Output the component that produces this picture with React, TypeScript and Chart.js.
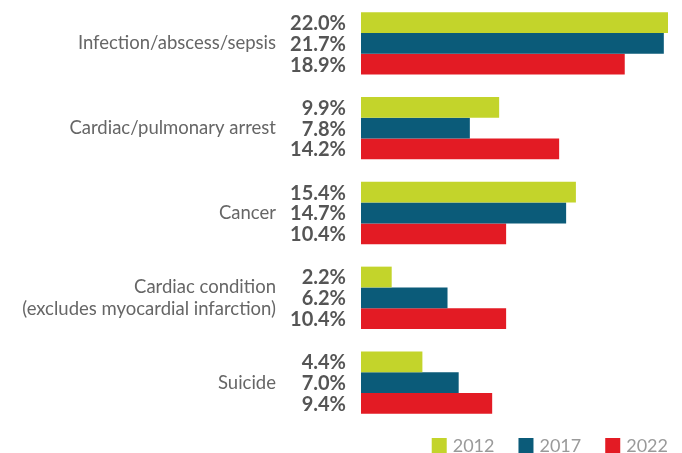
import React, { useEffect, useRef } from "react";
import { Chart, registerables } from "chart.js";

Chart.register(...registerables);

const categories: (string | string[])[] = [
  "Infection/abscess/sepsis",
  "Cardiac/pulmonary arrest",
  "Cancer",
  ["Cardiac condition", "(excludes myocardial infarction)"],
  "Suicide",
];
const years = ["2012", "2017", "2022"];
const values2012 = [22.0, 9.9, 15.4, 2.2, 4.4];
const values2017 = [21.7, 7.8, 14.7, 6.2, 7.0];
const values2022 = [18.9, 14.2, 10.4, 10.4, 9.4];
const colors = ["#C3D42B", "#0B5B79", "#E31B24"];

const FONT = "Lato, 'Open Sans', sans-serif";

const valueLabels = {
  id: "valueLabels",
  afterDatasetsDraw(chart: any) {
    const ctx = chart.ctx;
    ctx.save();
    ctx.font = `bold 20px ${FONT}`;
    ctx.fillStyle = "#555555";
    ctx.textAlign = "right";
    ctx.textBaseline = "middle";
    chart.data.datasets.forEach((ds: any, i: number) => {
      const meta = chart.getDatasetMeta(i);
      meta.data.forEach((bar: any, j: number) => {
        ctx.fillText(ds.data[j].toFixed(1) + "%", chart.chartArea.left - 15, bar.y + 1);
      });
    });
    ctx.restore();
  },
};

const customLegend = {
  id: "customLegend",
  afterDraw(chart: any) {
    const ctx = chart.ctx;
    ctx.save();
    ctx.font = `18px ${FONT}`;
    ctx.textBaseline = "middle";
    ctx.textAlign = "left";
    const box = 15;
    const gapText = 6;
    const gapItem = 24;
    const yBox = chart.height - 15;
    let x = chart.chartArea.right;
    const ds = chart.data.datasets;
    for (let i = ds.length - 1; i >= 0; i--) {
      const w = ctx.measureText(ds[i].label).width;
      const tx = x - w;
      const bx = tx - gapText - box;
      ctx.fillStyle = ds[i].backgroundColor;
      ctx.fillRect(bx, yBox, box, box);
      ctx.fillStyle = "#9a9a9a";
      ctx.fillText(ds[i].label, tx, yBox + box / 2 + 1);
      x = bx - gapItem;
    }
    ctx.restore();
  },
};

export default function App() {
  const ref = useRef<HTMLCanvasElement>(null);
  useEffect(() => {
    if (!ref.current) return;
    const chart = new Chart(ref.current, {
      type: "bar",
      data: {
        labels: categories,
        datasets: [values2012, values2017, values2022].map((d, i) => ({
          label: years[i],
          data: d,
          backgroundColor: colors[i],
          borderWidth: 0,
          barPercentage: 1,
          categoryPercentage: 0.735,
        })),
      },
      options: {
        indexAxis: "y",
        animation: false,
        responsive: true,
        maintainAspectRatio: false,
        layout: { autoPadding: false, padding: { top: 1, right: 14, bottom: 28, left: 0 } },
        scales: {
          x: {
            min: 0,
            max: 22,
            display: false,
          },
          y: {
            grid: { display: false, drawTicks: false },
            border: { display: false },
            ticks: {
              color: "#666666",
              font: { family: FONT, size: 18.5 },
              padding: 85,
            },
            afterFit(scale: any) {
              scale.width = 361;
              scale.paddingTop = 0;
              scale.paddingBottom = 0;
            },
          },
        },
        plugins: {
          legend: { display: false },
          tooltip: { enabled: false },
        },
      },
      plugins: [valueLabels, customLegend],
    });
    return () => chart.destroy();
  }, []);
  return (
    <div style={{ position: "absolute", left: 0, top: 0, width: 682, height: 453, background: "#fff" }}>
      <canvas ref={ref} />
    </div>
  );
}
